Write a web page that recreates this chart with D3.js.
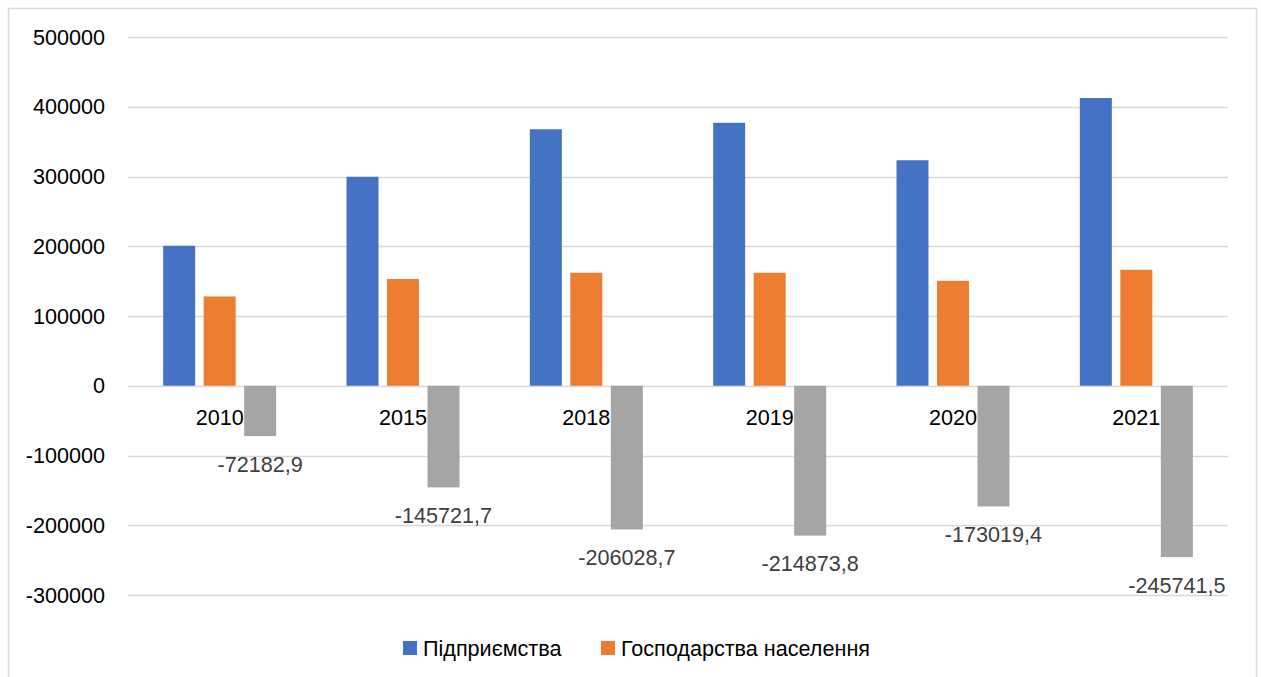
<!DOCTYPE html>
<html>
<head>
<meta charset="utf-8">
<script src="https://cdn.jsdelivr.net/npm/d3@7"></script>
<style>
  html, body { margin: 0; padding: 0; background: #fff; }
  text { font-family: 'Liberation Sans', Arial, sans-serif; }
</style>
</head>
<body>
<div id="chart"></div>
<script>
  'use strict';

  // data
  var years = ['2010', '2015', '2018', '2019', '2020', '2021'];
  var enterprises = [200700, 299600, 367700, 377000, 323300, 412500];
  var households = [128000, 153000, 162000, 162000, 150500, 166300];
  var balance = [-72182.9, -145721.7, -206028.7, -214873.8, -173019.4, -245741.5];
  var seriesNames = ['Підприємства', 'Господарства населення', ''];
  var seriesColors = ['#4472c4', '#ed7d31', '#a5a5a5'];
  var yTicks = [500000, 400000, 300000, 200000, 100000, 0, -100000, -200000, -300000];

  var w = 1261,
    h = 677,
    fs = 21.6;

  var svg = d3.select('#chart')
    .append('svg')
    .attr('width', w)
    .attr('height', h);

  // chart border
  svg.append('rect')
    .attr('x', 8.5).attr('y', 8.5)
    .attr('width', 1248).attr('height', 700)
    .attr('fill', 'none')
    .attr('stroke', '#d9d9d9')
    .attr('stroke-width', 1.5);

  var y = d3.scaleLinear()
    .domain([-300000, 500000])
    .range([595, 37]);

  var x0 = d3.scaleBand()
    .domain(years)
    .range([128, 1228]);

  var x1 = d3.scaleBand()
    .domain([0, 1, 2])
    .range([-60.75, 60.75])
    .paddingInner(0.21)
    .paddingOuter(0.105);

  // gridlines
  svg.append('g')
    .selectAll('line')
    .data(yTicks)
    .join('line')
    .attr('x1', 128).attr('x2', 1228)
    .attr('y1', function(d) { return Math.round(y(d)) + 0.5; })
    .attr('y2', function(d) { return Math.round(y(d)) + 0.5; })
    .attr('stroke', '#d9d9d9')
    .attr('stroke-width', 1.5);

  // y tick labels
  svg.append('g')
    .selectAll('text')
    .data(yTicks)
    .join('text')
    .attr('x', 105)
    .attr('y', function(d) { return y(d); })
    .attr('dy', '0.35em')
    .attr('text-anchor', 'end')
    .attr('font-size', fs)
    .attr('fill', '#000')
    .text(function(d) { return d; });

  // category labels (drawn before bars, the grey bars sit over them)
  svg.append('g')
    .selectAll('text')
    .data(years)
    .join('text')
    .attr('x', function(d) { return x0(d) + x0.bandwidth() / 2; })
    .attr('y', 417)
    .attr('dy', '0.35em')
    .attr('text-anchor', 'middle')
    .attr('font-size', fs)
    .attr('fill', '#000')
    .text(function(d) { return d; });

  var series = [enterprises, households, balance];

  series.forEach(function(vals, si) {
    svg.append('g')
      .selectAll('rect')
      .data(vals)
      .join('rect')
      .attr('x', function(d, i) { return x0(years[i]) + x0.bandwidth() / 2 + x1(si); })
      .attr('width', x1.bandwidth())
      .attr('y', function(d) { return Math.min(y(d), y(0)); })
      .attr('height', function(d) { return Math.abs(y(d) - y(0)); })
      .attr('fill', seriesColors[si]);
  });

  // data labels for the negative series
  svg.append('g')
    .selectAll('text')
    .data(balance)
    .join('text')
    .attr('x', function(d, i) { return x0(years[i]) + x0.bandwidth() / 2 + x1(2) + x1.bandwidth() / 2; })
    .attr('y', function(d) { return y(d) + 28; })
    .attr('dy', '0.35em')
    .attr('text-anchor', 'middle')
    .attr('font-size', fs)
    .attr('fill', '#404040')
    .text(function(d) { return String(d).replace('.', ','); });

  // legend
  var legend = svg.append('g');
  var legendX = [403, 601];
  [0, 1].forEach(function(si) {
    legend.append('rect')
      .attr('x', legendX[si]).attr('y', 641)
      .attr('width', 14).attr('height', 14)
      .attr('fill', seriesColors[si]);
    legend.append('text')
      .attr('x', legendX[si] + 20)
      .attr('y', 648)
      .attr('dy', '0.35em')
      .attr('font-size', fs)
      .attr('fill', '#000')
      .text(seriesNames[si]);
  });
</script>
</body>
</html>
